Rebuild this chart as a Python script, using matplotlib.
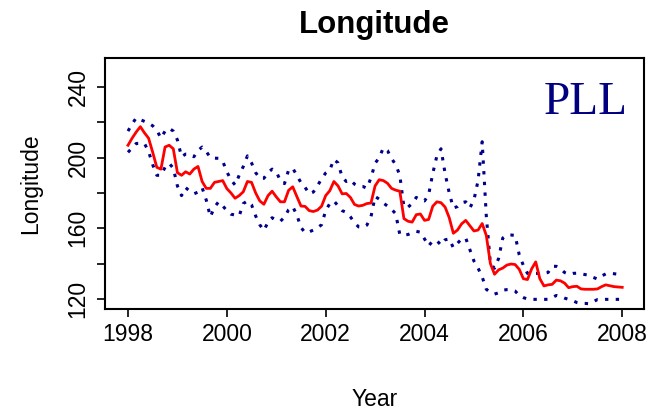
import numpy as np
import matplotlib
matplotlib.use("Agg")
import matplotlib.pyplot as plt

plt.rcParams['font.family'] = ['Liberation Sans', 'DejaVu Sans']

# monthly estimates, Jan 1998 .. Jan 2008
mean_lon = [207, 211, 214.5, 217.5, 214, 211, 203, 194.5, 193.5, 206, 207, 205,
            191.5, 190, 192, 190.7, 193.5, 195, 186.5, 182.6, 182.6, 186, 186.5, 187,
            182.5, 180, 177, 178.5, 180.7, 186.5, 186, 180, 175.5, 173.6, 178.5, 181,
            177.8, 175, 175, 181.5, 183.5, 178, 172.6, 172.4, 170, 169.5, 170.3, 172.5,
            178.5, 181.3, 186.5, 184, 179.5, 179.7, 177.5, 173.5, 172.6, 173, 174, 174.3,
            184, 187.5, 187, 185.5, 182.6, 181.6, 181, 165.5, 164, 163.5, 167.7, 168.1,
            164.5, 165, 172.5, 175, 174.5, 172, 166, 157.2, 159, 162.5, 164.5, 161.5,
            158.5, 159, 162.7, 156, 140, 134, 136.5, 137.5, 139.2, 139.8, 139.5, 136.8,
            131.5, 131, 137, 141, 131.5, 127.4, 128, 128.3, 130.7, 130.3, 129, 126.4,
            127, 127.2, 125.7, 125.5, 125.5, 125.5, 125.7, 127, 128, 127.5, 127, 126.8,
            126.6]
upper_lon = [215, 219, 222.5, 221.5, 220.5, 219.5, 218, 215.5, 211, 215, 216.6, 215,
             210, 200.5, 202, 202, 200.5, 204, 206, 203.5, 200, 199.7, 199.6, 198,
             192, 187.5, 184.5, 190, 195, 201, 197, 191.5, 188.3, 188.3, 191.5, 193.5,
             192, 187, 185.3, 193, 194, 190, 185.8, 183.2, 179.5, 180.5, 184, 188,
             191.3, 193, 199, 197, 189, 186.5, 187.4, 185, 183.8, 183.7, 182.7, 188.5,
             196.8, 200, 205.5, 204, 199.5, 196, 190, 172, 172, 174, 177.5, 176,
             175.5, 179, 191, 201, 205, 191, 180, 171.5, 172.3, 174.5, 175, 171.5,
             176, 187, 209, 167, 140, 137.4, 143, 154.5, 156.2, 156.2, 156, 145,
             139, 134.5, 134.5, 134.5, 134.5, 134.5, 135, 138.5, 138.5, 137.2, 135, 134,
             134.5, 134.6, 134.3, 133.8, 133.5, 132.2, 131.3, 133, 134.2, 134.6, 134.3, 134,
             133.6]
lower_lon = [203, 205.5, 208, 208.1, 208, 203.5, 196, 190, 190, 194.5, 196.8, 194,
             184, 178.5, 183, 181, 179.5, 180.5, 183, 176, 166.5, 172, 175, 172.7,
             170, 168, 167.5, 167, 174, 175.5, 173.3, 167, 162, 158.8, 163.5, 166,
             164.5, 164, 166.3, 170.5, 172.3, 167.5, 160.5, 157.5, 158, 159, 160.3, 162,
             170, 174, 175.5, 172.7, 170, 169, 166.5, 163.2, 160.8, 160.5, 161.8, 166.5,
             178, 176.5, 174.3, 172.6, 170.8, 168.2, 156.5, 156.2, 156.5, 157.4, 158.3, 157.8,
             154, 150, 153, 153, 150.5, 153.5, 154, 149, 151.5, 154, 154.5, 148,
             141.5, 137.5, 132.5, 125.5, 123.7, 122.8, 123.5, 125, 125.3, 125.3, 124.5, 122,
             120.8, 120, 119.8, 119.8, 119.8, 119.8, 119.8, 120.8, 122, 121.5, 120.5, 119.8,
             119, 118, 117.5, 117.5, 117.3, 118.5, 119.7, 119.6, 119.8, 119.8, 119.8, 119.8,
             119.8]
years = 1998 + np.arange(len(mean_lon)) / 12.0

x_ticks = [1998, 2000, 2002, 2004, 2006, 2008]
y_ticks = [120, 140, 160, 180, 200, 220, 240]
y_labels = ['120', '', '160', '', '200', '', '240']

fig = plt.figure(figsize=(6.56, 4.11), dpi=100)
ax = fig.add_axes([0.160, 0.248, 0.822, 0.611])

navy = '#00008B'
ax.plot(years, upper_lon, color=navy, lw=2.2, linestyle=(0, (1.1, 2.4)),
        dash_capstyle='butt')
ax.plot(years, lower_lon, color=navy, lw=2.2, linestyle=(0, (1.1, 2.4)),
        dash_capstyle='butt')
ax.plot(years, mean_lon, color='red', lw=2.0)

ax.set_xlim(1997.534, 2008.445)
ax.set_ylim(114.3, 256.4)
ax.set_xticks(x_ticks)
ax.set_yticks(y_ticks)
ax.set_yticklabels(y_labels, rotation=90, va='center')
ax.tick_params(axis='both', direction='out', length=6, width=1.2,
               labelsize=16.5, color='black')
ax.tick_params(axis='x', pad=4)
ax.tick_params(axis='y', pad=5)
for s in ax.spines.values():
    s.set_linewidth(1.5)

ax.set_xlabel('Year', fontsize=16.5, labelpad=30)
ax.set_ylabel('Longitude', fontsize=16.5, labelpad=18)
ax.set_title('Longitude', fontsize=22.5, fontweight='bold', pad=18)

ax.text(0.970, 0.82, 'PLL', transform=ax.transAxes, ha='right', va='center',
        fontsize=34, color='#000080', family=['Liberation Serif', 'DejaVu Serif'])

fig.savefig('out.png', dpi=100)
